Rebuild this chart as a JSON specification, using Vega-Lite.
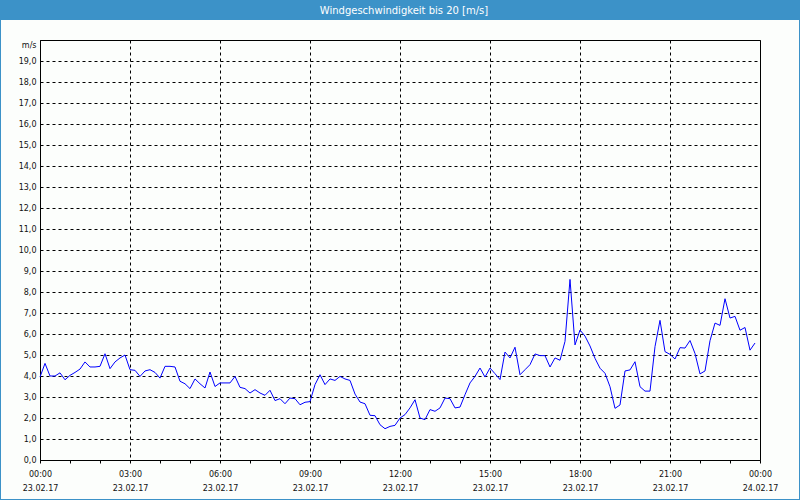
{
  "$schema": "https://vega.github.io/schema/vega-lite/v6.json",
  "width": 720,
  "height": 420,
  "autosize": {"type": "none"},
  "padding": {"left": 40, "top": 40, "right": 40, "bottom": 40},
  "background": "#fcfefc",
  "title": {
    "text": "Windgeschwindigkeit bis 20 [m/s]",
    "color": "#ffffff",
    "font": "DejaVu Sans",
    "fontSize": 10,
    "fontWeight": "normal",
    "anchor": "middle",
    "frame": "group",
    "baseline": "middle",
    "offset": -22,
    "dx": 4
  },
  "config": {
    "view": {"stroke": "#000000", "strokeWidth": 1}
  },
  "layer": [
    {
      "data": {"values": [{}]},
      "mark": {"type": "rect", "fill": "#3c92c8"},
      "encoding": {"x": {"value": -40}, "x2": {"value": 760}, "y": {"value": -40}, "y2": {"value": -20}}
    },
    {
      "data": {"values": [{}]},
      "mark": {"type": "rect", "fillOpacity": 0, "stroke": "#3c92c8", "strokeWidth": 2},
      "encoding": {"x": {"value": -40}, "x2": {"value": 760}, "y": {"value": -40}, "y2": {"value": 460}}
    },
    {
      "data": {"values": [
        {"t": "2017-02-23T00:00Z", "v": 3.95}, {"t": "2017-02-23T00:10Z", "v": 4.6}, {"t": "2017-02-23T00:20Z", "v": 4.0}, {"t": "2017-02-23T00:30Z", "v": 4.0},
        {"t": "2017-02-23T00:40Z", "v": 4.15}, {"t": "2017-02-23T00:50Z", "v": 3.82}, {"t": "2017-02-23T01:00Z", "v": 4.03}, {"t": "2017-02-23T01:10Z", "v": 4.17},
        {"t": "2017-02-23T01:20Z", "v": 4.33}, {"t": "2017-02-23T01:30Z", "v": 4.67}, {"t": "2017-02-23T01:40Z", "v": 4.43}, {"t": "2017-02-23T01:50Z", "v": 4.43},
        {"t": "2017-02-23T02:00Z", "v": 4.46}, {"t": "2017-02-23T02:10Z", "v": 5.06}, {"t": "2017-02-23T02:20Z", "v": 4.35}, {"t": "2017-02-23T02:30Z", "v": 4.67},
        {"t": "2017-02-23T02:40Z", "v": 4.86}, {"t": "2017-02-23T02:50Z", "v": 5.0}, {"t": "2017-02-23T03:00Z", "v": 4.3}, {"t": "2017-02-23T03:10Z", "v": 4.27},
        {"t": "2017-02-23T03:20Z", "v": 3.98}, {"t": "2017-02-23T03:30Z", "v": 4.24}, {"t": "2017-02-23T03:40Z", "v": 4.3}, {"t": "2017-02-23T03:50Z", "v": 4.17},
        {"t": "2017-02-23T04:00Z", "v": 3.9}, {"t": "2017-02-23T04:10Z", "v": 4.46}, {"t": "2017-02-23T04:20Z", "v": 4.46}, {"t": "2017-02-23T04:30Z", "v": 4.43},
        {"t": "2017-02-23T04:40Z", "v": 3.75}, {"t": "2017-02-23T04:50Z", "v": 3.63}, {"t": "2017-02-23T05:00Z", "v": 3.4}, {"t": "2017-02-23T05:10Z", "v": 3.86},
        {"t": "2017-02-23T05:20Z", "v": 3.63}, {"t": "2017-02-23T05:30Z", "v": 3.43}, {"t": "2017-02-23T05:40Z", "v": 4.19}, {"t": "2017-02-23T05:50Z", "v": 3.5},
        {"t": "2017-02-23T06:00Z", "v": 3.67}, {"t": "2017-02-23T06:10Z", "v": 3.67}, {"t": "2017-02-23T06:20Z", "v": 3.67}, {"t": "2017-02-23T06:30Z", "v": 3.98},
        {"t": "2017-02-23T06:40Z", "v": 3.46}, {"t": "2017-02-23T06:50Z", "v": 3.4}, {"t": "2017-02-23T07:00Z", "v": 3.19}, {"t": "2017-02-23T07:10Z", "v": 3.35},
        {"t": "2017-02-23T07:20Z", "v": 3.19}, {"t": "2017-02-23T07:30Z", "v": 3.08}, {"t": "2017-02-23T07:40Z", "v": 3.32}, {"t": "2017-02-23T07:50Z", "v": 2.83},
        {"t": "2017-02-23T08:00Z", "v": 2.92}, {"t": "2017-02-23T08:10Z", "v": 2.68}, {"t": "2017-02-23T08:20Z", "v": 2.95}, {"t": "2017-02-23T08:30Z", "v": 2.92},
        {"t": "2017-02-23T08:40Z", "v": 2.63}, {"t": "2017-02-23T08:50Z", "v": 2.75}, {"t": "2017-02-23T09:00Z", "v": 2.78}, {"t": "2017-02-23T09:10Z", "v": 3.59},
        {"t": "2017-02-23T09:20Z", "v": 4.06}, {"t": "2017-02-23T09:30Z", "v": 3.59}, {"t": "2017-02-23T09:40Z", "v": 3.86}, {"t": "2017-02-23T09:50Z", "v": 3.79},
        {"t": "2017-02-23T10:00Z", "v": 3.98}, {"t": "2017-02-23T10:10Z", "v": 3.86}, {"t": "2017-02-23T10:20Z", "v": 3.79}, {"t": "2017-02-23T10:30Z", "v": 3.14},
        {"t": "2017-02-23T10:40Z", "v": 2.76}, {"t": "2017-02-23T10:50Z", "v": 2.68}, {"t": "2017-02-23T11:00Z", "v": 2.13}, {"t": "2017-02-23T11:10Z", "v": 2.11},
        {"t": "2017-02-23T11:20Z", "v": 1.68}, {"t": "2017-02-23T11:30Z", "v": 1.49}, {"t": "2017-02-23T11:40Z", "v": 1.6}, {"t": "2017-02-23T11:50Z", "v": 1.65},
        {"t": "2017-02-23T12:00Z", "v": 2.0}, {"t": "2017-02-23T12:10Z", "v": 2.16}, {"t": "2017-02-23T12:20Z", "v": 2.48}, {"t": "2017-02-23T12:30Z", "v": 2.87},
        {"t": "2017-02-23T12:40Z", "v": 2.0}, {"t": "2017-02-23T12:50Z", "v": 1.92}, {"t": "2017-02-23T13:00Z", "v": 2.4}, {"t": "2017-02-23T13:10Z", "v": 2.32},
        {"t": "2017-02-23T13:20Z", "v": 2.48}, {"t": "2017-02-23T13:30Z", "v": 2.95}, {"t": "2017-02-23T13:40Z", "v": 2.92}, {"t": "2017-02-23T13:50Z", "v": 2.48},
        {"t": "2017-02-23T14:00Z", "v": 2.52}, {"t": "2017-02-23T14:10Z", "v": 3.11}, {"t": "2017-02-23T14:20Z", "v": 3.67}, {"t": "2017-02-23T14:30Z", "v": 3.98},
        {"t": "2017-02-23T14:40Z", "v": 4.38}, {"t": "2017-02-23T14:50Z", "v": 3.95}, {"t": "2017-02-23T15:00Z", "v": 4.38}, {"t": "2017-02-23T15:10Z", "v": 4.11},
        {"t": "2017-02-23T15:20Z", "v": 3.83}, {"t": "2017-02-23T15:30Z", "v": 5.14}, {"t": "2017-02-23T15:40Z", "v": 4.86}, {"t": "2017-02-23T15:50Z", "v": 5.37},
        {"t": "2017-02-23T16:00Z", "v": 4.06}, {"t": "2017-02-23T16:10Z", "v": 4.3}, {"t": "2017-02-23T16:20Z", "v": 4.54}, {"t": "2017-02-23T16:30Z", "v": 5.05},
        {"t": "2017-02-23T16:40Z", "v": 4.97}, {"t": "2017-02-23T16:50Z", "v": 4.97}, {"t": "2017-02-23T17:00Z", "v": 4.43}, {"t": "2017-02-23T17:10Z", "v": 4.86},
        {"t": "2017-02-23T17:20Z", "v": 4.75}, {"t": "2017-02-23T17:30Z", "v": 5.65}, {"t": "2017-02-23T17:40Z", "v": 8.6}, {"t": "2017-02-23T17:50Z", "v": 5.48},
        {"t": "2017-02-23T18:00Z", "v": 6.19}, {"t": "2017-02-23T18:10Z", "v": 5.9}, {"t": "2017-02-23T18:20Z", "v": 5.43}, {"t": "2017-02-23T18:30Z", "v": 4.84},
        {"t": "2017-02-23T18:40Z", "v": 4.37}, {"t": "2017-02-23T18:50Z", "v": 4.13}, {"t": "2017-02-23T19:00Z", "v": 3.49}, {"t": "2017-02-23T19:10Z", "v": 2.46},
        {"t": "2017-02-23T19:20Z", "v": 2.62}, {"t": "2017-02-23T19:30Z", "v": 4.24}, {"t": "2017-02-23T19:40Z", "v": 4.29}, {"t": "2017-02-23T19:50Z", "v": 4.68},
        {"t": "2017-02-23T20:00Z", "v": 3.49}, {"t": "2017-02-23T20:10Z", "v": 3.28}, {"t": "2017-02-23T20:20Z", "v": 3.28}, {"t": "2017-02-23T20:30Z", "v": 5.4},
        {"t": "2017-02-23T20:40Z", "v": 6.65}, {"t": "2017-02-23T20:50Z", "v": 5.16}, {"t": "2017-02-23T21:00Z", "v": 5.03}, {"t": "2017-02-23T21:10Z", "v": 4.81},
        {"t": "2017-02-23T21:20Z", "v": 5.35}, {"t": "2017-02-23T21:30Z", "v": 5.33}, {"t": "2017-02-23T21:40Z", "v": 5.69}, {"t": "2017-02-23T21:50Z", "v": 5.07},
        {"t": "2017-02-23T22:00Z", "v": 4.1}, {"t": "2017-02-23T22:10Z", "v": 4.24}, {"t": "2017-02-23T22:20Z", "v": 5.68}, {"t": "2017-02-23T22:30Z", "v": 6.52},
        {"t": "2017-02-23T22:40Z", "v": 6.41}, {"t": "2017-02-23T22:50Z", "v": 7.68}, {"t": "2017-02-23T23:00Z", "v": 6.76}, {"t": "2017-02-23T23:10Z", "v": 6.84},
        {"t": "2017-02-23T23:20Z", "v": 6.18}, {"t": "2017-02-23T23:30Z", "v": 6.31}, {"t": "2017-02-23T23:40Z", "v": 5.23}, {"t": "2017-02-23T23:50Z", "v": 5.57}
      ]},
      "mark": {"type": "line", "color": "#0000ff", "strokeWidth": 1},
      "encoding": {
        "x": {
          "field": "t",
          "type": "temporal",
          "scale": {"type": "utc", "domain": [1487808000000, 1487894400000]},
          "axis": {
            "title": null,
            "values": [1487808000000, 1487811600000, 1487815200000, 1487818800000, 1487822400000, 1487826000000, 1487829600000, 1487833200000, 1487836800000, 1487840400000, 1487844000000, 1487847600000, 1487851200000, 1487854800000, 1487858400000, 1487862000000, 1487865600000, 1487869200000, 1487872800000, 1487876400000, 1487880000000, 1487883600000, 1487887200000, 1487890800000, 1487894400000],
            "labelExpr": "utchours(datum.value) % 3 == 0 ? [utcFormat(datum.value, '%H:%M'), utcFormat(datum.value, '%d.%m.%y')] : ''",
            "labelFont": "DejaVu Sans",
            "labelFontSize": 8,
            "labelColor": "#111111",
            "labelLineHeight": 14,
            "labelPadding": 7,
            "labelFlush": false,
            "labelOverlap": false,
            "labelAngle": 0,
            "ticks": true,
            "tickSize": 3,
            "tickColor": "#000000",
            "domain": true,
            "domainColor": "#000000",
            "grid": true,
            "gridColor": "#000000",
            "gridDash": [3, 3],
            "gridOpacity": {"condition": {"test": "utchours(datum.value) % 3 == 0", "value": 1}, "value": 0}
          }
        },
        "y": {
          "field": "v",
          "type": "quantitative",
          "scale": {"domain": [0, 20], "nice": false, "zero": true},
          "axis": {
            "title": "m/s",
            "titleAngle": 0,
            "titleAlign": "right",
            "titleBaseline": "middle",
            "titleX": -4,
            "titleY": 5,
            "titleFont": "DejaVu Sans",
            "titleFontSize": 8,
            "titleFontWeight": "normal",
            "titleColor": "#111111",
            "values": [0, 1, 2, 3, 4, 5, 6, 7, 8, 9, 10, 11, 12, 13, 14, 15, 16, 17, 18, 19],
            "labelExpr": "replace(format(datum.value, '.1f'), '.', ',')",
            "labelFont": "DejaVu Sans",
            "labelFontSize": 8,
            "labelColor": "#111111",
            "labelPadding": 4,
            "ticks": false,
            "domain": true,
            "domainColor": "#000000",
            "grid": true,
            "gridColor": "#000000",
            "gridDash": [3, 3]
          }
        }
      }
    }
  ]
}
